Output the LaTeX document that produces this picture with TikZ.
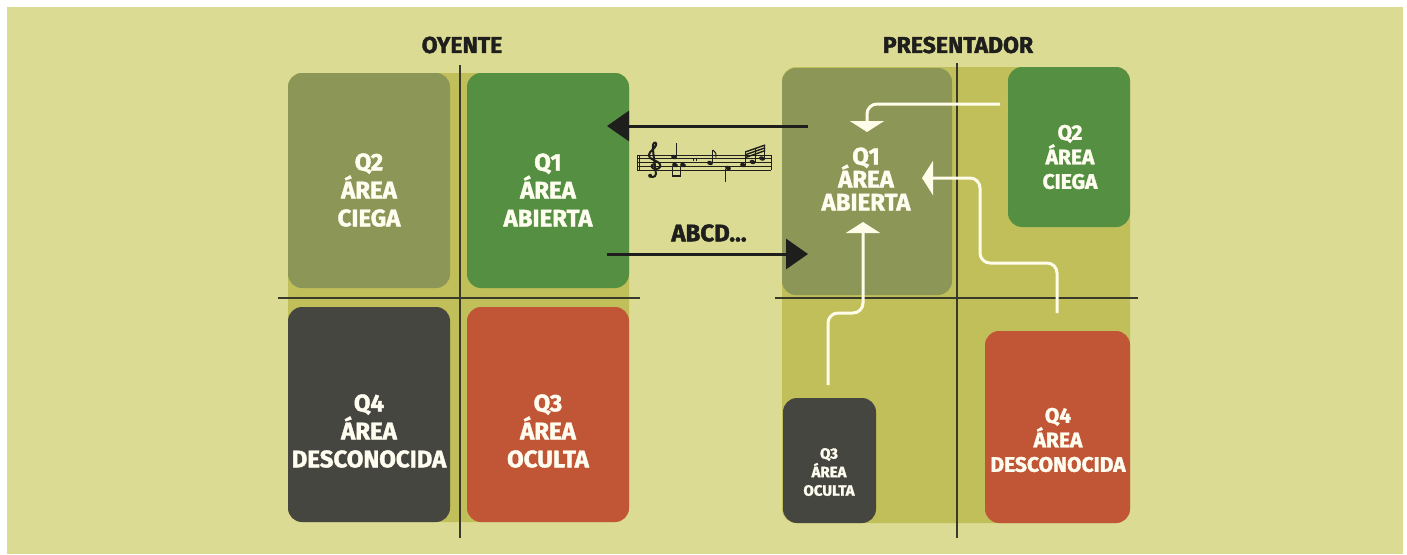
\documentclass[tikz,border=0pt]{standalone}
\usepackage{fontspec}
\setmainfont{Fira Sans}[BoldFeatures={FakeBold=1.6}]
\usetikzlibrary{arrows.meta,calc}

\newcommand\tightlines{\setlength{\lineskiplimit}{-20pt}}

\definecolor{panel}{HTML}{DCDB94}
\definecolor{backing}{HTML}{C0BF5A}
\definecolor{olivebox}{HTML}{8B9657}
\definecolor{greenbox}{HTML}{558F41}
\definecolor{darkbox}{HTML}{464640}
\definecolor{redbox}{HTML}{C05636}
\definecolor{txt}{HTML}{FFFDF0}
\definecolor{ink}{HTML}{1E1E1C}
\definecolor{divc}{HTML}{3A3A2C}
\definecolor{wline}{HTML}{FFFCEA}

\tikzset{
  box/.style={rectangle, rounded corners=14pt, inner sep=0pt, outer sep=0pt},
  lbl/.style={text=txt, align=center, inner sep=0pt},
  big/.style={font=\fontsize{24}{28}\selectfont\bfseries},
  title/.style={text=ink, inner sep=0pt, font=\fontsize{23}{26}\selectfont\bfseries},
  divider/.style={draw=divc, line width=1.4pt},
  blackarrow/.style={draw=ink, line width=3pt, -{Triangle[length=22pt,width=30pt]}},
  whitearrow/.style={draw=wline, line width=3pt, rounded corners=10pt,
                     -{Triangle[length=11pt,width=34pt]}},
  staffline/.style={draw=ink, line width=0.8pt},
  notestem/.style={draw=ink, line width=1pt},
  notehead/.style={fill=ink},
}

\begin{document}
\begin{tikzpicture}[x=1pt,y=-1pt]
\useasboundingbox (0,0) rectangle (1407,554);
\fill[white] (0,0) rectangle (1407,554);
\fill[panel] (7,7) rectangle (1403,554);

% ---------- listener window ----------
\fill[backing, rounded corners=14pt] (288,73) rectangle (629,522);
\draw[divider] (460,65) -- (460,538);
\draw[divider] (278,298) -- (640,298);

\node[box, fill=olivebox, minimum width=162pt, minimum height=215pt] (lq2) at (369,180.5) {};
\node[box, fill=greenbox, minimum width=162pt, minimum height=215pt] (lq1) at (548,180.5) {};
\node[box, fill=darkbox,  minimum width=162pt, minimum height=215pt] (lq4) at (369,414.5) {};
\node[box, fill=redbox,   minimum width=162pt, minimum height=215pt] (lq3) at (548,414.5) {};

\node[lbl, big] (lq2t) at (369,190) {Q2\\ÁREA\\CIEGA};
\node[lbl, big] (lq1t) at (548,190) {Q1\\ÁREA\\ABIERTA};
\node[lbl, big] (lq4t) at (369,431) {Q4\\ÁREA\\DESCONOCIDA};
\node[lbl, big] (lq3t) at (548,431) {Q3\\ÁREA\\OCULTA};

\node[title] (toy) at (462,45) {OYENTE};

% ---------- presenter window ----------
\fill[backing, rounded corners=14pt] (782,67) rectangle (1130,523);
\draw[divider] (957,63) -- (957,538);
\draw[divider] (775,298) -- (1138,298);

\node[box, fill=olivebox, minimum width=170pt, minimum height=227pt] (rq1) at (867,181.5) {};
\node[box, fill=greenbox, minimum width=122pt, minimum height=160pt] (rq2) at (1069,147) {};
\node[box, fill=darkbox,  minimum width=93pt,  minimum height=125pt] (rq3) at (829.5,460.5) {};
\node[box, fill=redbox,   minimum width=145pt, minimum height=192pt] (rq4) at (1057.5,427) {};

\node[lbl, font=\fontsize{24}{23}\selectfont\tightlines\bfseries] (rq1t) at (866,179) {Q1\\ÁREA\\ABIERTA};
\node[lbl, font=\fontsize{21}{24.5}\selectfont\bfseries] (rq2t) at (1070,157) {Q2\\ÁREA\\CIEGA};
\node[lbl, font=\fontsize{15}{18.5}\selectfont\bfseries] (rq3t) at (829,472) {Q3\\ÁREA\\OCULTA};
\node[lbl, font=\fontsize{21}{24.5}\selectfont\bfseries] (rq4t) at (1058,440) {Q4\\ÁREA\\DESCONOCIDA};

\node[title] (tpr) at (958,45) {PRESENTADOR};

% ---------- feedback paths inside the presenter window ----------
\coordinate (w1s) at (1000,104);
\coordinate (w1e) at (867,132);
\draw[whitearrow] (w1s) -| (w1e);

\coordinate (w2s) at (828,385);
\coordinate (w2e) at (863,222);
\draw[whitearrow] (w2s) -- (828,313) -- (863,313) -- (w2e);

\coordinate (w3s) at (1057,313);
\coordinate (w3e) at (922,178);
\draw[whitearrow] (w3s) -- (1057,263) -- (980,263) -- (980,178) -- (w3e);

% ---------- exchange between the two windows ----------
\coordinate (m1s) at (808,126);
\coordinate (m1e) at (607,126);
\draw[blackarrow] (m1s) -- (m1e);
\coordinate (m2s) at (607,254);
\coordinate (m2e) at (808,254);
\draw[blackarrow] (m2s) -- (m2e);

\node[text=ink, inner sep=0pt, font=\fontsize{24}{26}\selectfont\bfseries] (abcd) at (709,233) {ABCD...};

% staff
\foreach \i in {0,...,4}
  \draw[staffline] (637,155+\i*3.75) -- (771,155+\i*3.75);
\draw[staffline] (637,155) -- (637,170);
\draw[staffline] (639.5,155) -- (639.5,170);
\draw[staffline] (771,155) -- (771,170);

% treble clef
\begin{scope}[shift={(654,170)}, x=6.2pt, y=4.1pt]
  \draw[ink, line width=2pt, line cap=round]
    (0.2,1.4) .. controls (-0.4,1.5) and (-0.6,0.8) .. (-0.1,0.35)
    .. controls (0.4,-0.05) and (1.25,0.5) .. (1.0,1.35)
    .. controls (0.8,2.2) and (-0.95,2.6) .. (-0.85,3.6)
    .. controls (-0.75,4.6) and (0.2,5.3) .. (0.35,6.1)
    .. controls (0.45,6.8) and (0.0,6.9) .. (-0.15,6.2)
    .. controls (-0.3,5.0) and (0.3,0.0) .. (0.3,-1.0)
    .. controls (0.3,-1.8) and (-0.55,-1.9) .. (-0.7,-1.35);
  \fill[ink] (-0.62,-1.4) circle [radius=2pt];
\end{scope}

% notes
\fill[notehead, rotate around={-20:(674,157)}] (674,157) ellipse [x radius=3pt, y radius=2.1pt];
\draw[notestem] (676.7,156.5) -- (676.7,143);
\fill[notehead, rotate around={-20:(675,165)}] (675,165) ellipse [x radius=3pt, y radius=2.1pt];
\fill[notehead, rotate around={-20:(683,165)}] (683,165) ellipse [x radius=3pt, y radius=2.1pt];
\draw[notestem] (672.3,165.5) -- (672.3,176.5);
\draw[notestem] (680.3,165.5) -- (680.3,176.5);
\draw[ink, line width=1.8pt] (671.8,176) -- (680.8,176);
\draw[notestem] (693.5,157.5) -- (693.5,161);
\draw[notestem] (696,157.5) -- (696,161);
\fill[notehead, rotate around={-20:(710,163)}] (710,163) ellipse [x radius=3pt, y radius=2.1pt];
\draw[notestem] (712.7,162.5) -- (712.7,150);
\draw[notestem] (712.7,150) .. controls (715.5,152) and (717,154.5) .. (716,157.5);
\fill[notehead, rotate around={-20:(728,168)}] (728,168) ellipse [x radius=3pt, y radius=2.1pt];
\draw[notestem] (725.3,168.5) -- (725.3,182);
\fill[notehead, rotate around={-20:(743,165)}] (743,165) ellipse [x radius=3pt, y radius=2.1pt];
\fill[notehead, rotate around={-20:(752.5,162)}] (752.5,162) ellipse [x radius=3pt, y radius=2.1pt];
\fill[notehead, rotate around={-20:(762,158.5)}] (762,158.5) ellipse [x radius=3pt, y radius=2.1pt];
\draw[notestem] (745.7,164.5) -- (745.7,151.8);
\draw[notestem] (755.2,161.5) -- (755.2,148.3);
\draw[notestem] (764.7,158) -- (764.7,145);
\foreach \k in {0,1,2}
  \draw[ink, line width=1.4pt] (745.2,152+\k*2.8) -- (765.2,145+\k*2.8);
\end{tikzpicture}
\end{document}
